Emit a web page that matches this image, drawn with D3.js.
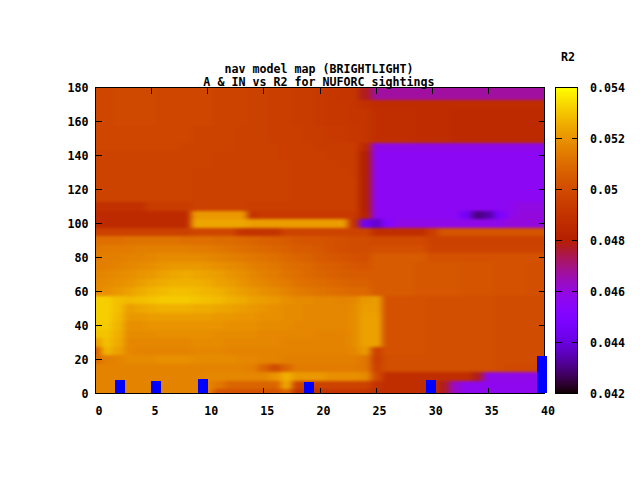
<!DOCTYPE html>
<html><head><meta charset="utf-8">
<style>html,body{margin:0;padding:0;background:#fff}svg{display:block}
text{font-family:"DejaVu Sans Mono",monospace;font-size:11.65px;font-weight:bold;fill:#000}</style>
<script src="https://cdn.jsdelivr.net/npm/d3@7/dist/d3.min.js"></script>
</head><body><div id="c"></div>
<script>
const titleLines=["nav model map (BRIGHTLIGHT)","A & IN vs R2 for NUFORC sightings"];
const cbLabel="R2";
const xTicks=[0,5,10,15,20,25,30,35,40];
const yTicks=[0,20,40,60,80,100,120,140,160,180];
const cbTicks=[0.042,0.044,0.046,0.048,0.05,0.052,0.054];
const cbTickLabels=["0.042","0.044","0.046","0.048","0.05","0.052","0.054"];
const xNodes=d3.range(0,41);
const yNodes=[180,175,170,165,160,155,150,145,140,135,130,125,120,115,110,105,100,95,90,85,80,75,70,65,60,55,50,45,40,35,30,25,20,15,10,5,0];
// R2 values in units of 0.0001, one row per yNodes entry, one column per xNodes entry
const r2Rows=[
[498,498,499,499,499,499,498,498,498,498,498,497,497,497,496,496,495,495,494,494,493,492,491,491,478,467,467,467,467,467,467,467,467,467,467,467,467,467,467,467,467],
[498,498,499,499,499,499,498,498,498,498,498,497,497,497,496,496,495,495,494,494,493,492,491,491,478,467,467,467,467,467,467,467,467,467,467,467,467,467,467,467,467],
[498,498,499,499,499,499,498,498,498,498,498,497,497,497,496,496,495,495,494,494,493,492,492,491,489,487,487,487,487,487,487,487,487,487,487,487,487,487,487,487,487],
[498,498,499,499,499,499,498,498,498,498,498,497,497,497,496,496,495,495,494,494,493,492,492,491,491,488,488,488,488,487,487,487,486,486,486,486,486,486,486,486,486],
[498,498,499,499,499,499,498,498,498,498,498,497,497,497,496,496,495,495,494,494,493,492,492,491,491,488,488,488,488,487,487,487,486,486,486,486,486,486,486,486,486],
[498,498,498,498,498,498,498,498,498,497,497,497,497,496,496,496,495,495,495,494,494,493,493,492,491,488,488,488,488,487,487,487,486,486,486,486,486,486,486,486,486],
[498,498,498,498,498,498,498,498,498,497,497,497,497,496,496,496,495,495,495,494,494,493,493,492,491,488,488,488,488,487,487,487,486,486,486,486,486,486,486,486,486],
[498,498,498,498,498,498,498,498,497,497,497,497,497,496,496,496,496,495,495,495,494,494,494,494,485,458,458,458,458,458,458,458,458,458,458,458,458,458,458,458,458],
[497,497,497,497,497,497,497,497,497,497,497,496,496,496,496,496,496,495,495,495,495,494,494,494,480,456,456,456,456,456,456,456,456,456,456,456,456,456,456,456,456],
[497,497,497,497,497,497,497,497,497,497,497,496,496,496,496,496,496,496,495,495,495,495,494,494,480,456,456,456,456,456,456,456,456,456,456,456,456,456,456,456,456],
[497,497,497,497,497,497,497,497,497,496,496,496,496,496,496,496,496,496,495,495,495,495,495,494,480,456,456,456,456,456,456,456,456,456,456,456,456,456,456,456,456],
[497,497,497,497,497,497,497,497,497,496,496,496,496,496,496,496,496,496,495,495,495,495,495,495,480,456,456,456,456,456,456,456,456,456,456,456,456,456,456,456,456],
[497,497,497,497,497,497,497,497,497,496,496,496,496,496,496,496,496,496,495,495,495,495,495,495,480,456,456,456,456,456,456,456,456,456,456,456,456,456,456,456,456],
[497,497,497,497,497,497,497,497,497,496,496,496,496,496,496,496,496,496,495,495,495,495,495,495,480,456,456,456,456,456,456,456,456,456,456,456,456,456,456,456,456],
[489,489,489,489,489,494,494,494,494,496,496,496,496,496,495,495,495,495,495,495,495,495,495,495,480,456,456,456,456,456,456,456,456,456,456,456,456,457,459,459,459],
[486,486,486,486,486,486,486,486,486,521,521,521,521,521,490,493,493,493,493,493,493,493,493,493,482,456,456,456,456,456,456,456,456,445,430,434,448,457,460,460,460],
[486,486,486,486,486,486,486,486,486,524,524,524,524,524,522,522,522,522,522,522,522,522,522,490,444,438,452,458,458,458,458,458,458,458,458,458,458,460,460,460,460],
[496,496,496,496,496,496,496,496,496,498,498,498,498,490,490,490,490,497,497,497,497,497,497,497,497,488,488,488,488,488,495,503,503,503,503,503,503,503,503,503,503],
[511,511,511,512,512,512,512,512,511,511,511,510,510,509,508,507,506,505,504,503,503,502,501,500,500,499,499,499,499,499,496,496,496,496,496,496,496,496,496,496,496],
[513,514,514,514,515,515,515,515,515,514,514,513,512,511,510,509,508,507,505,505,504,502,501,500,500,501,501,501,501,501,497,497,497,497,497,497,497,497,497,497,497],
[514,515,515,516,516,517,518,518,518,518,517,516,515,514,513,512,511,509,508,507,505,504,503,502,501,505,505,505,505,505,502,502,502,502,502,502,502,502,502,502,502],
[515,515,516,517,518,519,520,521,521,521,520,519,518,517,515,514,513,511,510,509,507,506,505,504,503,505,505,505,505,504,504,504,504,503,503,503,502,502,502,501,501],
[516,517,518,519,520,521,523,524,525,524,523,522,520,519,517,515,514,512,511,509,508,507,506,505,505,505,505,505,505,504,504,504,504,503,503,503,502,502,502,501,501],
[517,518,519,520,522,524,525,526,526,526,525,523,522,520,518,517,515,514,512,511,510,509,508,507,507,505,505,505,505,504,504,504,504,503,503,503,502,502,502,501,501],
[518,519,521,523,525,527,528,529,529,528,527,526,524,522,521,519,518,516,514,513,512,511,510,509,509,505,505,505,505,504,504,504,504,503,503,503,502,502,502,501,501],
[532,532,529,528,529,530,531,531,531,530,529,528,526,525,523,522,521,519,518,518,517,517,516,517,521,522,502,502,502,502,501,501,501,501,501,501,500,500,500,500,500],
[532,532,529,522,524,525,526,526,526,525,525,524,523,522,521,520,519,518,518,517,517,517,517,518,522,522,502,502,502,502,501,501,501,501,501,501,500,500,500,500,500],
[532,532,528,521,521,522,522,522,522,522,522,521,521,520,520,519,519,518,518,517,517,517,517,518,523,523,502,502,502,502,501,501,501,501,501,501,500,500,500,500,500],
[531,531,527,519,519,520,520,520,520,520,520,520,519,519,519,518,518,518,517,517,517,517,517,518,523,523,502,502,502,502,501,501,501,501,501,501,500,500,500,500,500],
[530,530,526,518,518,518,519,519,519,519,519,518,518,518,518,517,517,517,517,517,516,516,516,518,523,523,502,502,502,502,501,501,501,501,501,501,500,500,500,500,500],
[522,529,525,517,517,517,517,517,517,518,518,518,517,517,517,517,517,516,516,516,516,516,516,518,523,523,502,502,502,502,501,501,501,501,501,501,500,500,500,500,500],
[506,527,523,517,516,516,516,516,516,517,517,517,516,516,516,516,516,516,516,516,516,516,516,517,521,496,502,502,502,502,501,501,501,501,501,501,500,500,500,500,500],
[510,515,516,518,518,518,519,519,519,518,518,518,518,517,517,516,516,515,515,515,515,515,515,515,513,495,501,501,501,501,501,501,501,501,501,501,500,500,500,500,500],
[516,516,516,516,516,516,516,516,516,516,516,516,516,516,515,508,500,508,514,514,514,514,514,514,513,496,501,501,501,501,501,501,501,501,501,501,500,499,499,499,499],
[516,516,516,516,516,516,516,516,516,516,517,517,517,517,517,517,520,526,521,521,521,519,519,519,518,500,488,488,488,488,488,488,488,488,478,458,458,458,458,458,458],
[516,516,516,516,516,516,516,516,516,516,516,513,508,508,508,508,508,524,497,497,497,497,497,497,497,490,488,488,488,488,488,478,463,457,457,457,457,457,457,457,457],
[516,516,516,516,516,516,516,516,516,516,516,502,502,502,502,502,502,508,490,490,490,490,490,490,490,488,488,488,488,488,488,478,463,457,457,457,457,457,457,457,457]
];
const valueUnit=0.0001;
// blue boxes along the bottom
const boxX=[2.2,5.4,9.6,19.05,29.9,39.8];
const boxTop=[8.2,7.6,8.8,7,8.2,22.3];
const boxBottom=[0.3,0.3,0.3,0.3,0.3,0.3];
const boxWidthX=0.9;

const W=640,H=480;
const plot={l:95.5,r:544.5,t:87.5,b:393.5};
const cb={l:555.5,r:577.5};
const x=d3.scaleLinear().domain([0,40]).range([plot.l,plot.r]);
const y=d3.scaleLinear().domain([0,180]).range([plot.b,plot.t]);
const cbY=d3.scaleLinear().domain([0.042,0.054]).range([plot.b,plot.t]);
const norm=d3.scaleLinear().domain([0.042,0.054]).range([0,1]).clamp(true);
function pal(v){const g=norm(v);
  const to=c=>Math.round(255*Math.max(0,Math.min(1,c)));
  return `rgb(${to(Math.sqrt(g))},${to(g*g*g)},${to(Math.sin(2*Math.PI*g))})`;}

const svg=d3.select("#c").append("svg").attr("width",W).attr("height",H);
const defs=svg.append("defs");
defs.append("clipPath").attr("id","pc").append("rect")
  .attr("x",plot.l).attr("y",plot.t).attr("width",plot.r-plot.l).attr("height",plot.b-plot.t);
const f=defs.append("filter").attr("id","soft").attr("filterUnits","userSpaceOnUse")
  .attr("x",0).attr("y",0).attr("width",W).attr("height",H)
  .attr("color-interpolation-filters","sRGB");
f.append("feGaussianBlur").attr("stdDeviation","3 1.8");

const cells=[];
r2Rows.forEach((row,j)=>row.forEach((v,i)=>cells.push({i,j,v:v*valueUnit})));
const pad=24;
svg.append("g").attr("clip-path","url(#pc)").append("g").attr("filter","url(#soft)")
 .selectAll("rect").data(cells).join("rect")
 .attr("shape-rendering","crispEdges")
 .attr("x",d=>d.i===0?x(xNodes[0])-pad:x(xNodes[d.i]-0.5))
 .attr("width",d=>{const a=d.i===0?x(xNodes[0])-pad:x(xNodes[d.i]-0.5);
    const b=d.i===xNodes.length-1?x(xNodes[d.i])+pad:x(xNodes[d.i]+0.5);return b-a+0.6;})
 .attr("y",d=>d.j===0?y(yNodes[0])-pad:y(yNodes[d.j]+2.5))
 .attr("height",d=>{const a=d.j===0?y(yNodes[0])-pad:y(yNodes[d.j]+2.5);
    const b=d.j===yNodes.length-1?y(yNodes[d.j])+pad:y(yNodes[d.j]-2.5);return b-a+0.6;})
 .attr("fill",d=>pal(d.v));

// colour box
const cbSteps=d3.range(87,394);
svg.append("g").selectAll("rect").data(cbSteps).join("rect")
 .attr("shape-rendering","crispEdges")
 .attr("x",cb.l).attr("width",cb.r-cb.l).attr("y",d=>d).attr("height",1.2)
 .attr("fill",d=>pal(cbY.invert(d+0.5)));

const crisp=s=>s.attr("shape-rendering","crispEdges").attr("stroke","#000").attr("stroke-width",1).attr("fill","none");
const tk=6;
const g=svg.append("g");
xTicks.forEach(t=>{
  g.append("line").call(crisp).attr("x1",x(t)).attr("x2",x(t)).attr("y1",plot.b).attr("y2",plot.b-tk);
  g.append("line").call(crisp).attr("x1",x(t)).attr("x2",x(t)).attr("y1",plot.t).attr("y2",plot.t+tk);
  g.append("text").attr("x",x(t)+3.5).attr("y",415).attr("text-anchor","middle").text(t);
});
yTicks.forEach(t=>{
  g.append("line").call(crisp).attr("x1",plot.l).attr("x2",plot.l+tk).attr("y1",y(t)).attr("y2",y(t));
  g.append("line").call(crisp).attr("x1",plot.r).attr("x2",plot.r-tk).attr("y1",y(t)).attr("y2",y(t));
  g.append("text").attr("x",88.5).attr("y",y(t)+4.5).attr("text-anchor","end").text(t);
});
g.append("rect").call(crisp).attr("x",plot.l).attr("y",plot.t).attr("width",plot.r-plot.l).attr("height",plot.b-plot.t);
cbTicks.forEach((t,i)=>{
  g.append("line").call(crisp).attr("x1",cb.l).attr("x2",cb.l+tk).attr("y1",cbY(t)).attr("y2",cbY(t));
  g.append("line").call(crisp).attr("x1",cb.r).attr("x2",cb.r-tk).attr("y1",cbY(t)).attr("y2",cbY(t));
  g.append("text").attr("x",590).attr("y",cbY(t)+4.5).text(cbTickLabels[i]);
});
g.append("rect").call(crisp).attr("x",cb.l).attr("y",plot.t).attr("width",cb.r-cb.l).attr("height",plot.b-plot.t);

// title
svg.append("text").attr("x",319).attr("y",73).attr("text-anchor","middle").text(titleLines[0]);
svg.append("text").attr("x",319).attr("y",86).attr("text-anchor","middle").text(titleLines[1]);
svg.append("text").attr("x",568).attr("y",61).attr("text-anchor","middle").text(cbLabel);

// blue boxes
svg.append("g").selectAll("rect").data(boxX).join("rect")
 .attr("shape-rendering","crispEdges").attr("fill","#0000ff")
 .attr("x",d=>x(d-boxWidthX/2)).attr("width",x(boxWidthX)-x(0))
 .attr("y",(d,i)=>y(boxTop[i])).attr("height",(d,i)=>y(boxBottom[i])-y(boxTop[i]));
</script></body></html>
